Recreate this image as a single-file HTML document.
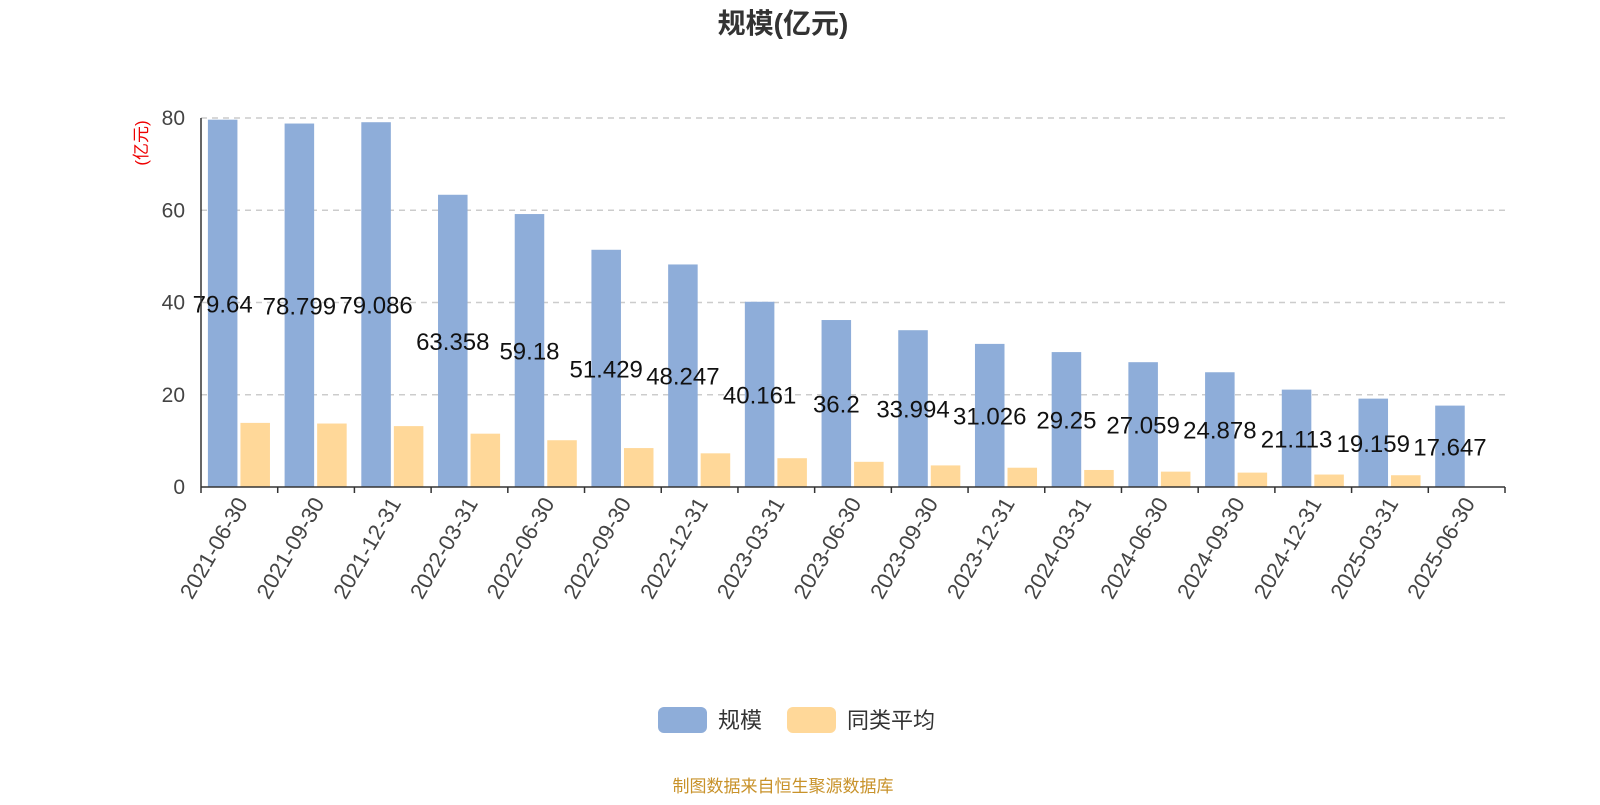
<!DOCTYPE html>
<html><head><meta charset="utf-8"><style>
body{margin:0;background:#fff;width:1600px;height:800px;overflow:hidden;font-family:"Liberation Sans","Noto Sans CJK SC",sans-serif}
</style></head><body>
<svg id="c" width="1600" height="800" xmlns="http://www.w3.org/2000/svg" font-family="Liberation Sans, Noto Sans CJK SC, sans-serif">
<text x="783" y="33" text-anchor="middle" font-size="28" font-weight="bold" fill="#333">规模(亿元)</text>
<text transform="translate(147,143) rotate(-90)" text-anchor="middle" font-size="17" fill="#e00">(亿元)</text>
<g id="grid"></g><g id="bars"></g><g id="axes"></g>
<g>
<rect x="658" y="707" width="49" height="26" rx="6" fill="#8eadd9"/>
<text x="718" y="728" font-size="22" fill="#333">规模</text>
<rect x="787" y="707" width="49" height="26" rx="6" fill="#ffd899"/>
<text x="847" y="728" font-size="22" fill="#333">同类平均</text>
</g>
<text x="783" y="792" text-anchor="middle" font-size="17" fill="#c8922a">制图数据来自恒生聚源数据库</text>
</svg>
<script>
const categories=["2021-06-30","2021-09-30","2021-12-31","2022-03-31","2022-06-30","2022-09-30","2022-12-31","2023-03-31","2023-06-30","2023-09-30","2023-12-31","2024-03-31","2024-06-30","2024-09-30","2024-12-31","2025-03-31","2025-06-30"];
const scaleValues=[79.64,78.799,79.086,63.358,59.18,51.429,48.247,40.161,36.2,33.994,31.026,29.25,27.059,24.878,21.113,19.159,17.647];
const avgValues=[13.9,13.76,13.2,11.56,10.14,8.44,7.3,6.24,5.46,4.68,4.18,3.69,3.33,3.12,2.7,2.55,null];
const yTicks=[0,20,40,60,80];
const NS="http://www.w3.org/2000/svg";
const x0=201,x1=1505,y0=487,y1=118,yMax=80;
const band=(x1-x0)/categories.length;
const Y=v=>y0-(v/yMax)*(y0-y1);
const X=i=>x0+i*band;
function mk(t,a,p){const e=document.createElementNS(NS,t);for(const k in a)e.setAttribute(k,a[k]);p.appendChild(e);return e;}
const grid=document.getElementById('grid'),bars=document.getElementById('bars'),axes=document.getElementById('axes');
yTicks.forEach(t=>{
 if(t>0){const l=mk('line',{x1:x0,x2:x1,y1:Y(t),y2:Y(t),stroke:'#ccc','stroke-width':1.5,'stroke-dasharray':'6,5'},grid);
 
 }
 const tx=mk('text',{x:185,y:Y(t)+7,'text-anchor':'end','font-size':21,fill:'#444'},axes);tx.textContent=t;
 
 
});
const bw=band*0.385;
categories.forEach((c,i)=>{
 const bx=X(i)+band*0.09;
 const r=mk('rect',{x:bx,y:Y(scaleValues[i]),width:bw,height:y0-Y(scaleValues[i]),fill:'#8eadd9'},bars);
 
 
 if(avgValues[i]!=null){const r2=mk('rect',{x:bx+bw+3,y:Y(avgValues[i]),width:bw,height:y0-Y(avgValues[i]),fill:'#ffd899'},bars);
 
 }
 const lb=mk('text',{x:bx+bw/2,y:(Y(scaleValues[i])+y0)/2+9,'text-anchor':'middle','font-size':24,fill:'#111'},bars);lb.textContent=scaleValues[i];
 
 
 const tk=mk('line',{x1:X(i),x2:X(i),y1:y0,y2:y0+6,stroke:'#333','stroke-width':1.5},axes);
 
 
 const cx=X(i)+band/2;
 const xl=mk('text',{x:0,y:0,transform:`translate(${cx+9},${y0+16}) rotate(-60)`,'text-anchor':'end','font-size':22,fill:'#444'},axes);xl.textContent=c;
 
 
});
const tkl=mk('line',{x1:x1,x2:x1,y1:y0,y2:y0+6,stroke:'#333','stroke-width':1.5},axes);


const xa=mk('line',{x1:x0,x2:x1,y1:y0,y2:y0,stroke:'#333','stroke-width':1.5},axes);


const ya=mk('line',{x1:x0,x2:x0,y1:y1,y2:y0,stroke:'#333','stroke-width':1.5},axes);


</script>
</body></html>
